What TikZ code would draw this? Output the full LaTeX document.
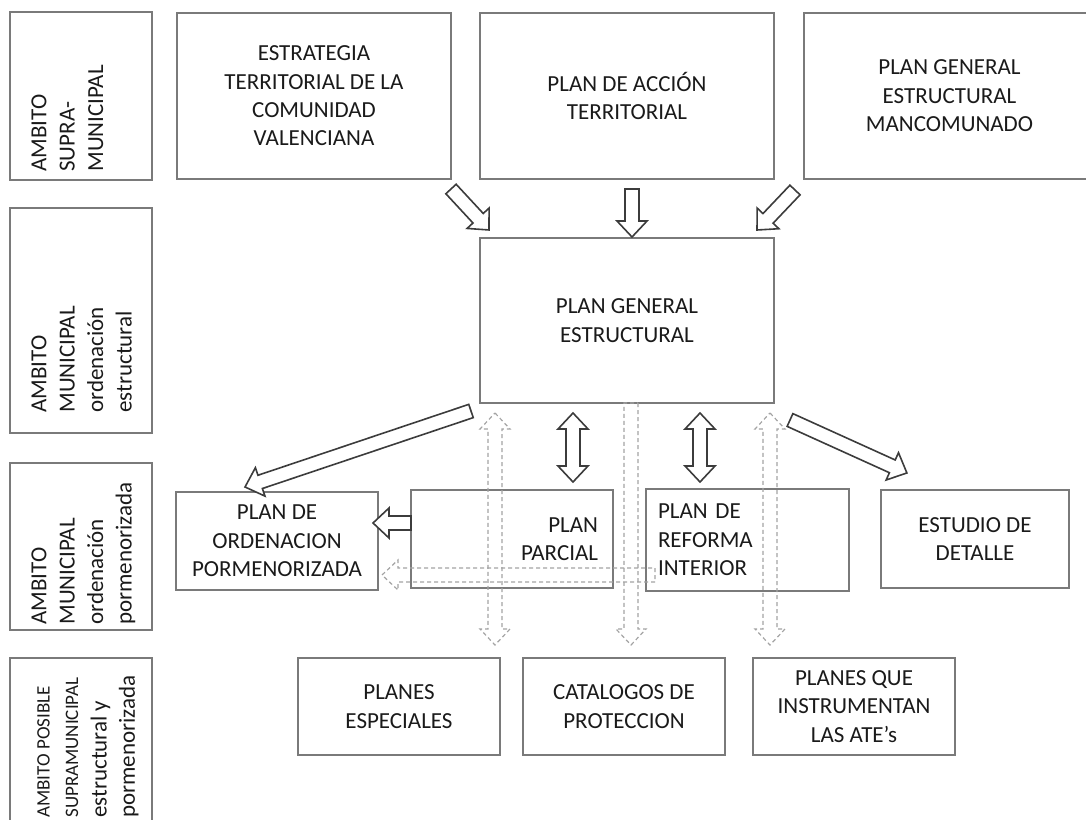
\documentclass[tikz,border=0pt]{standalone}
\usepackage{fontspec}
\setmainfont{Carlito}
\usepackage{tikz}
\usetikzlibrary{calc}
\definecolor{boxgray}{HTML}{7A7A7A}
\definecolor{arrowgray}{HTML}{3C3C3C}
\definecolor{dashgray}{HTML}{A3A3A3}
\definecolor{txtdark}{HTML}{1A1A1A}

% block arrow between two named points: [style]{from}{to}{1 or 2 heads}
\newcommand{\blockarrow}[4][]{%
  \path let \p1=($(#3)-(#2)$) in
    \pgfextra{\pgfmathsetmacro{\baang}{atan2(\y1,\x1)}%
              \pgfmathsetmacro{\balen}{veclen(\x1,\y1)}%
              \xdef\baang{\baang}\xdef\balen{\balen}};
  \begin{scope}[shift={(#2)}, rotate=\baang]
    \ifnum#4=2
      \draw[#1] (0pt,0pt) -- (8pt,7.5pt) -- (8pt,3.5pt) -- ({\balen pt-8pt},3.5pt)
        -- ({\balen pt-8pt},7.5pt) -- ({\balen pt},0pt) -- ({\balen pt-8pt},-7.5pt)
        -- ({\balen pt-8pt},-3.5pt) -- (8pt,-3.5pt) -- (8pt,-7.5pt) -- cycle;
    \else
      \draw[#1] (0pt,3.5pt) -- ({\balen pt-8pt},3.5pt) -- ({\balen pt-8pt},7.5pt)
        -- ({\balen pt},0pt) -- ({\balen pt-8pt},-7.5pt) -- ({\balen pt-8pt},-3.5pt)
        -- (0pt,-3.5pt) -- cycle;
    \fi
  \end{scope}
}
\newcommand{\smallamb}{\fontsize{9.5}{12.5}\selectfont}

\begin{document}
\begin{tikzpicture}[x=0.5pt, y=-0.5pt,
    plbox/.style={draw=boxgray, line width=1pt, align=center, text=txtdark,
      font=\fontsize{11.5}{14.2}\selectfont, inner sep=2pt},
    ambbox/.style={draw=boxgray, line width=1pt, minimum width=71pt},
    ambtext/.style={rotate=90, anchor=north west, align=left, inner sep=0pt,
      text=txtdark, font=\fontsize{11.5}{14.2}\selectfont},
    fatsolid/.style={draw=arrowgray, line width=0.8pt, fill=white, line join=miter},
    fatdash/.style={draw=dashgray, line width=0.6pt, dash pattern=on 2pt off 1.5pt}]
  \useasboundingbox (0,0) rectangle (1086,819);

  % --- left column: levels ---
  \node[ambbox, minimum height=84pt] (amb1) at (81,96) {};
  \node[ambbox, minimum height=112.5pt] (amb2) at (81,320.5) {};
  \node[ambbox, minimum height=83.5pt] (amb3) at (81,546.5) {};
  \node[ambbox, minimum height=121pt] (amb4) at (81,779) {};
  \node[ambtext] (amb1t) at (31,172) {AMBITO\\SUPRA-\\MUNICIPAL};
  \node[ambtext] (amb2t) at (31,413) {AMBITO\\MUNICIPAL\\ordenación\\estructural};
  \node[ambtext] (amb3t) at (31,625) {AMBITO\\MUNICIPAL\\ordenación\\pormenorizada};
  \node[ambtext] (amb4t) at (37,818) {\smallamb AMBITO POSIBLE\\
    \smallamb SUPRAMUNICIPAL\\estructural y\\pormenorizada};

  % --- supra-municipal plans ---
  \node[plbox, minimum width=137pt, minimum height=83pt] (etcv) at (314,96)
    {ESTRATEGIA\\TERRITORIAL DE LA\\COMUNIDAD\\VALENCIANA};
  \node[plbox, minimum width=147pt, minimum height=83pt] (pat) at (627,96)
    {PLAN DE ACCIÓN\\TERRITORIAL};
  \node[plbox, minimum width=145.5pt, minimum height=83pt] (pgem) at (949.5,96)
    {PLAN GENERAL\\ESTRUCTURAL\\MANCOMUNADO};

  % --- structural plan ---
  \node[plbox, minimum width=147pt, minimum height=82.5pt] (pge) at (627,320.5)
    {PLAN GENERAL\\ESTRUCTURAL};

  % --- detailed plans ---
  \node[plbox, minimum width=101pt, minimum height=49pt] (pop) at (277,541)
    {PLAN DE\\ORDENACION\\PORMENORIZADA};
  \node[plbox, align=right, text width=86pt, inner xsep=7.5pt, minimum height=49pt]
    (pp) at (512,539) {PLAN\\PARCIAL};
  \node[plbox, align=left, text width=89.5pt, inner xsep=6pt, minimum height=51pt]
    (pri) at (747.5,540) {PLAN DE\\REFORMA\\INTERIOR};
  \node[plbox, minimum width=94pt, minimum height=49pt] (ed) at (975,539)
    {ESTUDIO DE\\DETALLE};

  % --- special plans ---
  \node[plbox, minimum width=101pt, minimum height=48.5pt] (pe) at (399,706.5)
    {PLANES\\ESPECIALES};
  \node[plbox, minimum width=101pt, minimum height=48.5pt] (cp) at (624,706.5)
    {CATALOGOS DE\\PROTECCION};
  \node[plbox, minimum width=101pt, minimum height=48.5pt] (ate) at (854,706.5)
    {PLANES QUE\\INSTRUMENTAN\\LAS ATE’s};

  % --- arrow ends ---
  \coordinate (etcv-out) at (451,189);  \coordinate (pge-in1) at (489,230);
  \coordinate (pat-out) at (632,189);   \coordinate (pge-in2) at (632,237);
  \coordinate (pgem-out) at (795,190);  \coordinate (pge-in3) at (757,230);
  \coordinate (pge-l) at (471,411);     \coordinate (pop-in) at (245,487);
  \coordinate (pge-r) at (790,420);     \coordinate (ed-in) at (907,473);
  \coordinate (pge-pp) at (573,413);    \coordinate (pp-top) at (573,482);
  \coordinate (pge-pri) at (700,413);   \coordinate (pri-top) at (700,482);
  \coordinate (pp-out) at (411,523);    \coordinate (pop-r) at (373,523);
  \coordinate (dl-top) at (495,413);    \coordinate (pe-top) at (495,645);
  \coordinate (dc-top) at (631,403);    \coordinate (cp-top) at (631,645);
  \coordinate (dr-top) at (770,413);    \coordinate (ate-top) at (770,645);
  \coordinate (dh-r) at (655,575);      \coordinate (pop-in2) at (382,575);

  % --- dashed links ---
  \blockarrow[fatdash]{dl-top}{pe-top}{2}
  \blockarrow[fatdash]{dc-top}{cp-top}{1}
  \blockarrow[fatdash]{dr-top}{ate-top}{2}
  \blockarrow[fatdash]{dh-r}{pop-in2}{1}

  % --- solid links ---
  \blockarrow[fatsolid]{etcv-out}{pge-in1}{1}
  \blockarrow[fatsolid]{pat-out}{pge-in2}{1}
  \blockarrow[fatsolid]{pgem-out}{pge-in3}{1}
  \blockarrow[fatsolid]{pge-l}{pop-in}{1}
  \blockarrow[fatsolid]{pge-r}{ed-in}{1}
  \blockarrow[fatsolid]{pge-pp}{pp-top}{2}
  \blockarrow[fatsolid]{pge-pri}{pri-top}{2}
  \blockarrow[fatsolid]{pp-out}{pop-r}{1}
\end{tikzpicture}
\end{document}
